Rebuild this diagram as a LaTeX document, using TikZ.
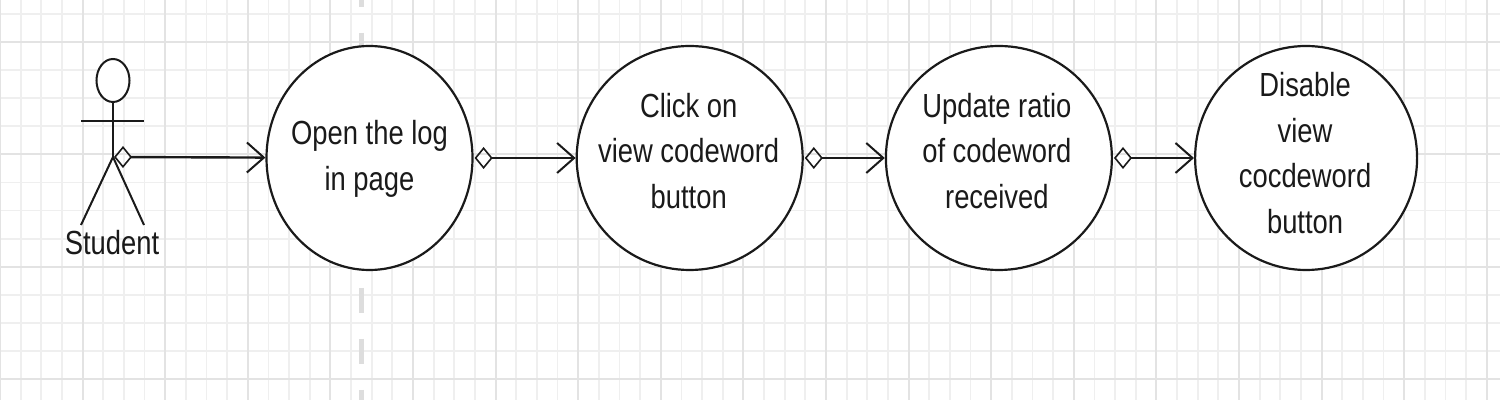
\documentclass[tikz,border=0pt]{standalone}
\usepackage{fontspec}
\setmainfont[FakeStretch=0.82]{Liberation Sans}
\usepackage{tikz}
\usetikzlibrary{shapes.geometric, arrows.meta, positioning}
\definecolor{gridminor}{HTML}{EFEFEF}
\definecolor{gridmajor}{HTML}{E3E3E3}
\definecolor{guide}{HTML}{DDDDDD}
\definecolor{inkline}{HTML}{1A1A1A}
\tikzset{
    usecase/.style={ellipse, draw=inkline, line width=1.1pt, fill=white, minimum width=113pt, minimum height=112pt, inner sep=0pt},
    casetext/.style={align=center, text=inkline, font=\fontsize{16.7}{22.7}\selectfont, inner sep=0pt},
    actorline/.style={draw=inkline, line width=1pt},
    arrow/.style={{Diamond[open, length=9pt, width=11pt, line width=0.8pt]}-{Straight Barb[length=8.5pt, width=15pt, line width=1pt]}, draw=inkline, line width=1.2pt, shorten <=0.5pt}
}

\begin{document}
\begin{tikzpicture}[x=0.5pt, y=-0.5pt, node distance=52pt]
            \useasboundingbox (0,0) rectangle (1500,400);
            \fill [white] (0,0) rectangle (1500,400);

            % Grid
            \foreach \i in {0,...,72} {
                \draw [gridminor, line width=0.9pt] ({\i*20.65},0) -- ({\i*20.65},400);
            }
            \foreach \i in {0,...,14} {
                \draw [gridminor, line width=0.9pt] (0,{13.9+\i*28.1}) -- (1500,{13.9+\i*28.1});
            }
            \foreach \i in {0,...,18} {
                \draw [gridmajor, line width=1pt] ({\i*82.6},0) -- ({\i*82.6},400);
            }
            \foreach \i in {0,...,3} {
                \draw [gridmajor, line width=1pt] (0,{42+\i*112.5}) -- (1500,{42+\i*112.5});
            }
            \draw [guide, line width=2.5pt, dash pattern=on 12.5pt off 13pt] (361,-18) -- (361,400);

            % Actor
            \node (head) [ellipse, actorline, fill=white, minimum width=16.5pt, minimum height=21.5pt, inner sep=0pt] at (113,80.5) {};
            \coordinate (hip) at (113,157);
            \coordinate (arm_l) at (81,121);
            \coordinate (arm_r) at (144,121);
            \coordinate (foot_l) at (81,225);
            \coordinate (foot_r) at (144,225);
            \draw [actorline] (head) -- (hip);
            \draw [actorline] (arm_l) -- (arm_r);
            \draw [actorline] (foot_l) -- (hip) -- (foot_r);
            \node (student) [casetext] at (112,243) {Student};

            % Use cases
            \node (open) [usecase, minimum width=103pt] at (369.5,158) {};
            \node (click) [usecase, right=51pt of open] {};
            \node (update) [usecase, right=40.5pt of click] {};
            \node (disable) [usecase, minimum width=111pt, right=40.5pt of update] {};

            \node (open_txt) [casetext, yshift=-0.5pt] at (open) {Open the log\\in page};
            \node (click_txt) [casetext, xshift=-0.5pt, yshift=3.5pt] at (click) {Click on\\view codeword\\button};
            \node (update_txt) [casetext, xshift=-1pt, yshift=3.5pt] at (update) {Update ratio\\of codeword\\received};
            \node (disable_txt) [casetext, xshift=-0.5pt, yshift=2.5pt] at (disable) {Disable\\view\\cocdeword\\button};

            % Flow
            \draw [arrow] (hip) -- (open);
            \draw [arrow] (open) -- (click);
            \draw [arrow] (click) -- (update);
            \draw [arrow] (update) -- (disable);
\end{tikzpicture}
\end{document}
